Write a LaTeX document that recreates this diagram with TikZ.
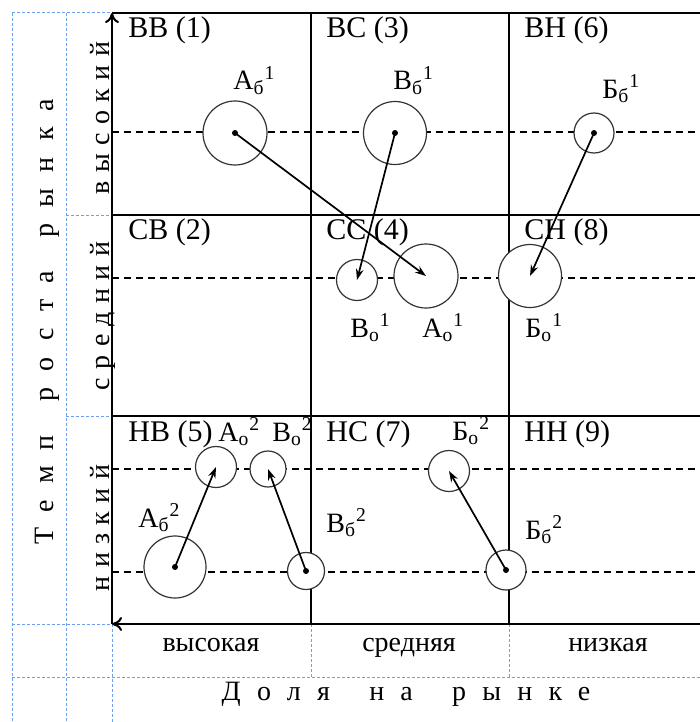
\documentclass[tikz,border=0pt]{standalone}
\usepackage{fontspec}
\setmainfont{Liberation Serif}
\newfontfamily\spacedfont[LetterSpace=30]{Liberation Serif}
\newfontfamily\widefont[LetterSpace=58]{Liberation Serif}
\usetikzlibrary{arrows.meta}

\tikzset{
  cellgrid/.style={line width=1pt},
  level/.style={dash pattern=on 3.5pt off 2.5pt, line width=0.6pt},
  frame/.style={draw={rgb,255:red,110;green,160;blue,240}, dash pattern=on 1.5pt off 1pt, line width=0.5pt},
  unit/.style={circle, draw=black!80, fill=white, line width=0.6pt, inner sep=0pt, minimum size=#1},
  cell/.style={anchor=base west, inner sep=0pt, font=\fontsize{15}{17}\selectfont},
  unitlabel/.style={anchor=base west, inner sep=0pt, font=\fontsize{14}{16}\selectfont},
  move/.style={-{Stealth[length=5.5pt,width=3.8pt]}, line width=0.85pt},
  axis/.style={line width=1pt},
}

\begin{document}
\begin{tikzpicture}[x=0.5pt, y=-0.5pt]
\useasboundingbox (0,0) rectangle (700,722);

% blue table frame
\draw[frame] (12,13) -- (112,13);
\draw[frame] (12,13) -- (12,722);
\draw[frame] (66,13) -- (66,722);
\draw[frame] (66,215) -- (112,215);
\draw[frame] (66,416) -- (112,416);
\draw[frame] (12,624) -- (112,624);
\draw[frame] (112,624) -- (112,722);
\draw[frame] (12,677) -- (700,677);
\draw[frame] (311,624) -- (311,677);
\draw[frame] (509,624) -- (509,677);

% matrix
\coordinate (O) at (112,624);
\coordinate (ytop) at (112,13);
\coordinate (xend) at (700,624);
\draw[cellgrid] (112,13) -- (700,13);
\draw[cellgrid] (112,215) -- (700,215);
\draw[cellgrid] (112,416) -- (700,416);
\draw[cellgrid] (311,13) -- (311,624);
\draw[cellgrid] (509,13) -- (509,624);
\draw[axis, -{Computer Modern Rightarrow[length=5pt,width=7pt]}] (O) -- (ytop);
\draw[axis, -{Computer Modern Rightarrow[length=5pt,width=7pt]}] (xend) -- (O);

% levels
\draw[level] (112,132) -- (700,132);
\draw[level] (112,278) -- (700,278);
\draw[level] (112,469) -- (700,469);
\draw[level] (112,572) -- (700,572);

% cells
\node[cell] (c1) at (128,38) {ВВ (1)};
\node[cell] (c3) at (326,38) {ВС (3)};
\node[cell] (c6) at (524,38) {ВН (6)};
\node[cell] (c2) at (128,239) {СВ (2)};
\node[cell] (c4) at (326,239) {СС (4)};
\node[cell] (c8) at (524,239) {СН (8)};
\node[cell] (c5) at (128,441) {НВ (5)};
\node[cell] (c7) at (326,441) {НС (7)};
\node[cell] (c9) at (524,441) {НН (9)};

% units
\node[unit=32pt] (Ab1) at (235,133) {};
\node[unit=31.5pt] (Bb1) at (395,133) {};
\node[unit=20pt] (Gb1) at (594,133) {};
\node[unit=20.5pt] (Bo1) at (357,280) {};
\node[unit=32pt] (Ao1) at (426,276) {};
\node[unit=31.5pt] (Go1) at (530,276) {};
\node[unit=20.5pt] (Ao2) at (216,467) {};
\node[unit=18pt] (Bo2) at (268,469) {};
\node[unit=31pt] (Ab2) at (175,567) {};
\node[unit=18.5pt] (Bb2) at (306,571) {};
\node[unit=20.5pt] (Go2) at (449,471) {};
\node[unit=20pt] (Gb2) at (506,570) {};

\node[unitlabel] (lAb1) at (233,90) {А\textsubscript{б}\textsuperscript{1}};
\node[unitlabel] (lBb1) at (393,90) {В\textsubscript{б}\textsuperscript{1}};
\node[unitlabel] (lGb1) at (602,98) {Б\textsubscript{б}\textsuperscript{1}};
\node[unitlabel] (lBo1) at (350,337) {В\textsubscript{о}\textsuperscript{1}};
\node[unitlabel] (lAo1) at (422,337) {А\textsubscript{о}\textsuperscript{1}};
\node[unitlabel] (lGo1) at (525,337) {Б\textsubscript{о}\textsuperscript{1}};
\node[unitlabel] (lAo2) at (218,441) {А\textsubscript{о}\textsuperscript{2}};
\node[unitlabel] (lBo2) at (272,441) {В\textsubscript{о}\textsuperscript{2}};
\node[unitlabel] (lAb2) at (138,527) {А\textsubscript{б}\textsuperscript{2}};
\node[unitlabel] (lBb2) at (326,532) {В\textsubscript{б}\textsuperscript{2}};
\node[unitlabel] (lGo2) at (452,440) {Б\textsubscript{о}\textsuperscript{2}};
\node[unitlabel] (lGb2) at (525,539) {Б\textsubscript{б}\textsuperscript{2}};

% moves
\foreach \from/\to in {Ab1/Ao1, Bb1/Bo1, Gb1/Go1, Ab2/Ao2, Bb2/Bo2, Gb2/Go2} {
  \fill (\from.center) circle (1.5pt);
  \draw[move] (\from.center) -- (\to.center);
}

% axis labels
\node[rotate=90, anchor=base, inner sep=0pt, font=\fontsize{14}{16}\spacedfont] (yhi) at (109,118) {высокий};
\node[rotate=90, anchor=base, inner sep=0pt, font=\fontsize{14}{16}\spacedfont] (ymid) at (109,316) {средний};
\node[rotate=90, anchor=base, inner sep=0pt, font=\fontsize{14}{16}\spacedfont] (ylo) at (109,528) {низкий};
\node[rotate=90, anchor=base, inner sep=0pt, font=\fontsize{14}{16}\widefont] (ytitle) at (53,322) {Темп\hspace{5pt} роста\hspace{5pt} рынка};
\node[anchor=base, inner sep=0pt, font=\fontsize{14}{16}\selectfont] (xhi) at (211,651) {высокая};
\node[anchor=base, inner sep=0pt, font=\fontsize{14}{16}\selectfont] (xmid) at (409,651) {средняя};
\node[anchor=base, inner sep=0pt, font=\fontsize{14}{16}\selectfont] (xlo) at (608,651) {низкая};
\node[anchor=base, inner sep=0pt, font=\fontsize{14}{16}\widefont] (xtitle) at (406,700) {Доля\hspace{8pt} на\hspace{8pt} рынке};
\end{tikzpicture}
\end{document}
